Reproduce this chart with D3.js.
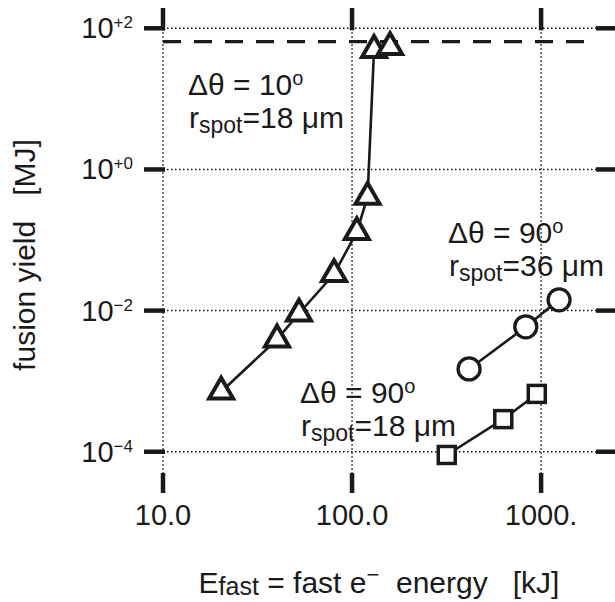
<!DOCTYPE html>
<html>
<head>
<meta charset="utf-8">
<script src="https://cdn.jsdelivr.net/npm/d3@7"></script>
<style>
  html, body { margin: 0; padding: 0; background: #fff; }
  svg { display: block; font-family: "Liberation Sans", Arial, Helvetica, sans-serif; }
</style>
</head>
<body>
<svg id="chart" width="615" height="602"></svg>
<script>
// ---- data ----
const triX = [20.3, 40.1, 52.4, 80.3, 106, 120.8, 130.7, 158.9];
const triY = [7.1e-4, 3.9e-3, 9.1e-3, 0.033, 0.13, 0.41, 49.3, 54.3];
const circX = [416, 830, 1245];
const circY = [1.49e-3, 5.9e-3, 0.0142];
const sqX = [317, 631, 949];
const sqY = [9.0e-5, 2.9e-4, 6.6e-4];
const ignitionYield = 64.6;
const xTicks = [10, 100, 1000];
const xTickLabels = ["10.0", "100.0", "1000."];
const yTicks = [1e2, 1, 1e-2, 1e-4];
const yTickExps = ["+2", "+0", "\u22122", "\u22124"];

const svg = d3.select("#chart");
const L = 163, R = 598, T = 28.3, B = 473;
const x = d3.scaleLog().domain([10, 2000]).range([L, R]);
const y = d3.scaleLog().domain([5e-5, 100]).range([B, T]);
const ink = "#1a1a1a";

// grid (dotted)
const grid = svg.append("g").attr("stroke", "#111").attr("stroke-width", 1.5)
  .attr("stroke-dasharray", "1.5,2.5");
grid.selectAll("line.v").data(xTicks).join("line")
  .attr("x1", d => x(d)).attr("x2", d => x(d)).attr("y1", T).attr("y2", B);
grid.selectAll("line.h").data(yTicks).join("line")
  .attr("x1", L).attr("x2", 596).attr("y1", d => y(d)).attr("y2", d => y(d));

// dashed ignition line
svg.append("line").attr("x1", L).attr("x2", 596)
  .attr("y1", y(ignitionYield)).attr("y2", y(ignitionYield))
  .attr("stroke", ink).attr("stroke-width", 3.2).attr("stroke-dasharray", "18,13");

// ticks (thick, outward)
const tk = svg.append("g").attr("stroke", ink).attr("stroke-width", 4.5);
tk.selectAll("line.l").data(yTicks).join("line")
  .attr("x1", 144).attr("x2", L + 2).attr("y1", d => y(d)).attr("y2", d => y(d));
tk.selectAll("line.r").data(yTicks).join("line")
  .attr("x1", 596).attr("x2", 616).attr("y1", d => y(d)).attr("y2", d => y(d));
tk.selectAll("line.t").data(xTicks).join("line")
  .attr("x1", d => x(d)).attr("x2", d => x(d)).attr("y1", 8).attr("y2", T + 2);
tk.selectAll("line.b").data(xTicks).join("line")
  .attr("x1", d => x(d)).attr("x2", d => x(d)).attr("y1", B).attr("y2", 493);

// series lines
const lineGen = d3.line().x(d => x(d[0])).y(d => y(d[1]));
function series(xs, ys) { return xs.map((v, i) => [v, ys[i]]); }
const triData = series(triX, triY), circData = series(circX, circY), sqData = series(sqX, sqY);
[triData, circData, sqData].forEach(data => {
  svg.append("path").datum(data).attr("d", lineGen)
    .attr("fill", "none").attr("stroke", ink).attr("stroke-width", 2.6);
});

// markers
const triSide = 24;
const triArea = Math.sqrt(3) / 4 * triSide * triSide;
svg.append("g").selectAll("path").data(triData).join("path")
  .attr("d", d3.symbol().type(d3.symbolTriangle).size(triArea))
  .attr("transform", d => `translate(${x(d[0])},${y(d[1])})`)
  .attr("fill", "#fff").attr("stroke", ink).attr("stroke-width", 4).attr("stroke-linejoin", "miter");
svg.append("g").selectAll("circle").data(circData).join("circle")
  .attr("cx", d => x(d[0])).attr("cy", d => y(d[1])).attr("r", 11)
  .attr("fill", "#fff").attr("stroke", ink).attr("stroke-width", 3.3);
svg.append("g").selectAll("rect").data(sqData).join("rect")
  .attr("x", d => x(d[0]) - 8.5).attr("y", d => y(d[1]) - 8.5)
  .attr("width", 17).attr("height", 17)
  .attr("fill", "#fff").attr("stroke", ink).attr("stroke-width", 3.5);

// tick labels
const yl = svg.append("g").attr("fill", ink);
yTicks.forEach((v, i) => {
  const t = yl.append("text").attr("x", 133).attr("y", y(v) + 10)
    .attr("text-anchor", "end").attr("font-size", 29);
  t.append("tspan").text("10");
  t.append("tspan").attr("font-size", 17).attr("dy", -10).text(yTickExps[i]);
});
svg.append("g").attr("fill", ink).selectAll("text").data(xTicks).join("text")
  .attr("x", d => x(d)).attr("y", 525).attr("text-anchor", "middle")
  .attr("font-size", 29).text((d, i) => xTickLabels[i]);

// axis labels
svg.append("text").attr("transform", "translate(35,255) rotate(-90)")
  .attr("text-anchor", "middle").attr("font-size", 30).attr("fill", ink)
  .style("white-space", "pre").text("fusion yield   [MJ]");
const xLab = svg.append("text").attr("x", 379).attr("y", 593)
  .attr("text-anchor", "middle").attr("font-size", 30).attr("fill", ink)
  .style("white-space", "pre");
xLab.append("tspan").text("E");
xLab.append("tspan").attr("font-size", 25).attr("dy", 2).text("fast");
xLab.append("tspan").attr("dy", -2).text(" = fast e");
xLab.append("tspan").attr("font-size", 22).attr("dy", -11).text("\u2212");
xLab.append("tspan").attr("dy", 11).text("  energy   [kJ]");

// annotations
function annot(xp, yp, angle, radius) {
  const g = svg.append("g").attr("fill", ink).attr("font-size", 30).style("white-space", "pre");
  const t1 = g.append("text").attr("x", xp).attr("y", yp);
  t1.append("tspan").text("\u0394\u03b8 = " + angle);
  t1.append("tspan").attr("font-size", 20).attr("dy", -10).text("o");
  const t2 = g.append("text").attr("x", xp + 1).attr("y", yp + 33);
  t2.append("tspan").text("r");
  t2.append("tspan").attr("font-size", 23).attr("dy", 5).text("spot");
  t2.append("tspan").attr("dy", -5).text("=" + radius + " \u03bcm");
}
annot(188, 95, "10", "18");
annot(448, 243, "90", "36");
annot(300, 403, "90", "18");
</script>
</body>
</html>
